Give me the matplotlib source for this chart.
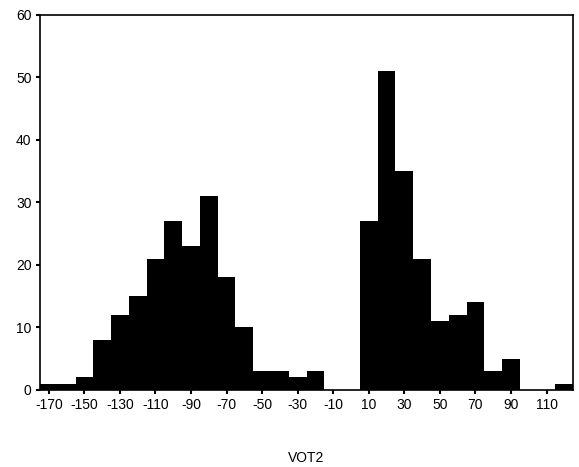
import matplotlib
matplotlib.use('Agg')
import matplotlib.pyplot as plt

plt.rcParams['font.family'] = ['Liberation Sans', 'DejaVu Sans']

# 组中心 (每组宽 10)
bin_centers = [-170, -160, -150, -140, -130, -120, -110, -100, -90, -80,
               -70, -60, -50, -40, -30, -20, -10, 0, 10, 20,
               30, 40, 50, 60, 70, 80, 90, 100, 110, 120]
counts = [1, 1, 2, 8, 12, 15, 21, 27, 23, 31,
          18, 10, 3, 3, 2, 3, 0, 0, 27, 51,
          35, 21, 11, 12, 14, 3, 5, 0, 0, 1]
tick_values = [-170, -150, -130, -110, -90, -70, -50, -30, -10, 10, 30, 50, 70, 90, 110]
tick_labels = [str(v) for v in tick_values]
y_ticks = [0, 10, 20, 30, 40, 50, 60]

fig = plt.figure(figsize=(5.79, 4.67), dpi=100)
ax = fig.add_axes([0.069, 0.165, 0.921, 0.803])

# 绘图
ax.bar(bin_centers, counts, width=10, color='black', edgecolor='none')

ax.set_xlim(-175, 125)
ax.set_ylim(0, 60)
ax.set_xticks(tick_values, tick_labels)
ax.set_yticks(y_ticks, [str(v) for v in y_ticks])
ax.tick_params(direction='out', length=3, width=1.5, labelsize=10, pad=3)
for s in ax.spines.values():
    s.set_linewidth(1.2)

ax.set_xlabel('VOT2', fontsize=10, labelpad=28)

plt.savefig('out.png', dpi=100)
